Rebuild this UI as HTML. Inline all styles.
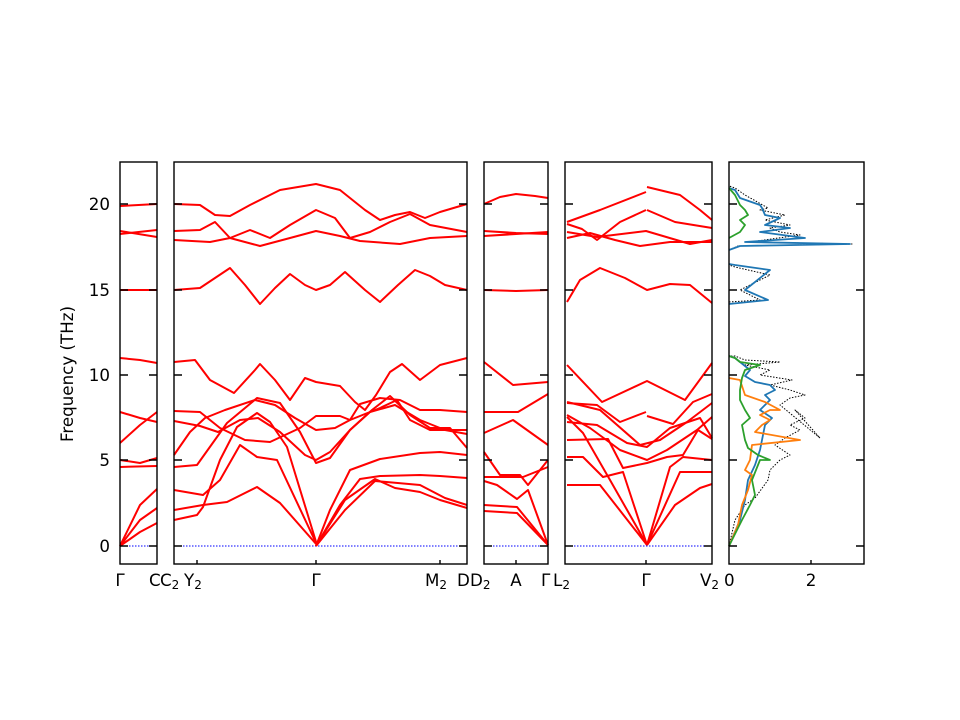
<!DOCTYPE html>
<html><head><meta charset="utf-8"><style>
body{margin:0;background:#fff}
svg{display:block}
text{font-family:"DejaVu Sans","Liberation Sans",sans-serif;font-size:16.7px;fill:#000}
.b{fill:none;stroke:#f00;stroke-width:2;stroke-linejoin:round}
.f{fill:none;stroke:#000;stroke-width:1.4}
.z{stroke:#00f;stroke-width:1;stroke-dasharray:1.5,1.5}
</style></head><body>
<svg width="960" height="720" xmlns="http://www.w3.org/2000/svg">
<rect width="960" height="720" fill="#fff"/>
<g class="z">
<line x1="120" y1="546" x2="157" y2="546"/><line x1="174" y1="546" x2="467" y2="546"/>
<line x1="484" y1="546" x2="548" y2="546"/><line x1="565" y1="546" x2="712" y2="546"/>
</g>
<g class="b">
<polyline points="120,206 157,204"/>
<polyline points="120,231 157,237"/><polyline points="120,234 157,230"/>
<polyline points="120,290 157,290"/>
<polyline points="120,358 140,360 157,363"/>
<polyline points="120,412 140,418 157,422"/>
<polyline points="120,443 140,425 157,412"/>
<polyline points="120,460 140,463 157,458"/>
<polyline points="120,467 157,466"/>
<polyline points="120,546 140,505 157,489"/>
<polyline points="120,546 140,520 157,508"/>
<polyline points="120,546 140,532 157,523"/>
</g>
<g class="b">
<polyline points="174,204 200,205 215,215 230,216 250,205 280,190 316,184 340,190 365,210 380,220 395,215 410,212 425,218 440,212 467,204"/>
<polyline points="174,231 200,230 215,222 230,238 250,230 270,238 290,225 316,210 335,218 350,238 370,232 390,222 410,214 430,225 467,232"/>
<polyline points="174,240 210,242 230,238 260,246 290,238 316,231 340,236 360,241 400,244 430,238 467,236"/>
<polyline points="174,290 200,288 215,278 230,268 245,285 260,304 275,288 290,274 305,285 316,290 330,285 345,272 365,290 380,302 398,285 415,270 430,276 445,285 467,290"/>
<polyline points="174,362 195,360 210,380 234,393 255,370 260,364 275,380 290,400 305,378 316,382 340,386 355,402 365,410 376,395 390,372 402,364 420,380 440,365 467,358"/>
<polyline points="174,411 200,412 220,428 245,440 270,442 300,428 316,416 340,416 350,420 360,404 380,398 400,400 420,410 440,410 467,412"/>
<polyline points="174,421 200,426 218,432 240,420 258,418 280,432 305,455 316,460 330,452 350,430 370,412 395,405 420,420 445,430 467,434"/>
<polyline points="174,455 190,432 205,418 225,410 255,400 275,405 295,418 316,430 335,428 350,420 380,408 397,400 410,420 430,430 467,430"/>
<polyline points="174,467 197,465 227,423 257,398 280,403 300,432 316,463 330,458 350,430 372,410 390,396 410,415 430,428 450,428 467,448"/>
<polyline points="174,490 203,495 220,480 240,445 257,457 277,460 317,545"/>
<polyline points="174,520 197,515 203,507 220,460 237,427 257,413 270,422 287,447 317,545"/>
<polyline points="174,510 203,505 227,502 257,487 280,503 317,545"/>
<polyline points="316,546 330,510 350,470 380,459 420,453 440,452 467,455"/>
<polyline points="316,546 340,505 360,479 380,476 420,475 440,476 467,478"/>
<polyline points="316,546 345,500 375,479 395,488 420,492 440,500 467,508"/>
<polyline points="316,546 345,510 375,481 420,485 445,498 467,505"/>
</g>
<g class="b">
<polyline points="484,204 500,197 516,194 535,196 548,198"/>
<polyline points="484,231 516,233 548,234"/>
<polyline points="484,236 516,234 548,232"/>
<polyline points="484,290 516,291 548,290"/>
<polyline points="484,362 513,385 548,382"/>
<polyline points="484,412 518,412 548,394"/>
<polyline points="484,433 513,420 548,445"/>
<polyline points="484,452 500,475 520,475 528,485 548,460"/>
<polyline points="484,477 523,477 548,467"/>
<polyline points="484,481 497,485 517,499 528,490 548,545"/>
<polyline points="484,505 517,507 548,545"/>
<polyline points="484,511 517,513 548,545"/>
</g>
<g class="b">
<polyline points="567,222 600,210 646,192"/><polyline points="647,187 680,195 700,210 712,220"/>
<polyline points="567,224 582,229 597,240 620,222 646,210"/><polyline points="647,210 675,222 712,228"/>
<polyline points="567,232 597,237 646,231 690,244 712,240"/>
<polyline points="567,238 590,233 615,240 640,246 670,242 712,242"/>
<polyline points="567,302 580,280 600,268 625,278 647,290 670,284 690,285 712,303"/>
<polyline points="567,365 602,402 647,381 685,400 712,363"/>
<polyline points="567,403 597,405 620,422 646,412"/><polyline points="647,416 673,424 693,402 712,394"/>
<polyline points="567,402 600,410 640,445 660,440 687,422 712,403"/>
<polyline points="567,415 590,428 620,450 647,460 667,450 697,430 712,417"/>
<polyline points="567,422 597,425 627,443 647,447 670,428 700,418 712,438"/>
<polyline points="567,440 608,439 623,468 647,463 667,457 683,455 698,430 712,439"/>
<polyline points="567,417 583,433 610,480 647,545"/>
<polyline points="567,457 583,457 603,477 623,472 647,545"/>
<polyline points="567,485 600,485 647,545"/>
<polyline points="647,545 670,467 683,457 712,460"/>
<polyline points="647,545 680,472 712,472"/>
<polyline points="647,545 675,505 700,488 712,484"/>
</g>
<g fill="none" stroke-width="1.8" stroke-linejoin="round">
<path stroke="#000" stroke-width="1" stroke-dasharray="1.5,1.5" d="M729,546 L735,520 745,505 755,498 768,480 770,470 780,460 790,455 775,445 785,438 800,430 790,425 805,418 795,410 820,438 780,405 790,398 805,395 790,390 770,385 792,380 760,375 770,370 745,365 780,362 745,360 735,356 729,356 M729,302 L760,300 740,290 770,275 735,267 729,265 M729,250 L738,246 852,244 750,242 800,235 780,232 770,228 790,225 765,220 785,215 760,210 768,208 745,195 735,188 729,186"/>
<path stroke="#1f77b4" d="M729,546 L740,520 745,500 748,480 755,465 760,450 762,440 765,425 772,418 760,410 770,400 765,395 775,390 770,385 755,382 745,376 750,370 740,362 735,358 729,356 M729,304 L768,300 745,290 770,270 735,265 729,264 M729,250 L740,246 850,244 745,242 805,238 760,232 790,228 765,225 780,218 765,215 762,208 760,205 740,198 735,190 729,188"/>
<path stroke="#ff7f0e" d="M729,546 L738,525 742,505 748,490 752,475 745,470 750,460 752,445 800,440 755,432 762,425 770,420 760,415 770,410 780,410 765,402 745,395 740,380 729,378"/>
<path stroke="#2ca02c" d="M729,546 L742,520 750,505 755,495 752,480 760,460 770,460 758,455 748,448 745,440 742,425 750,418 745,410 740,400 740,390 742,378 745,370 760,365 740,362 735,358 729,356 M729,238 L740,232 745,225 740,220 748,215 745,210 740,205 735,195 729,188"/>
</g>
<g class="f">
<rect x="120" y="162" width="37" height="402"/>
<rect x="174" y="162" width="293" height="402"/>
<rect x="484" y="162" width="64" height="402"/>
<rect x="565" y="162" width="147" height="402"/>
<rect x="729" y="162" width="135" height="402"/>
</g>
<g stroke="#000" stroke-width="1.4">
<path d="M120,546h8M120,460h8M120,375h8M120,290h8M120,204h8M157,546h-8M157,460h-8M157,375h-8M157,290h-8M157,204h-8"/>
<path d="M174,546h8M174,460h8M174,375h8M174,290h8M174,204h8M467,546h-8M467,460h-8M467,375h-8M467,290h-8M467,204h-8"/>
<path d="M484,546h8M484,460h8M484,375h8M484,290h8M484,204h8M548,546h-8M548,460h-8M548,375h-8M548,290h-8M548,204h-8"/>
<path d="M565,546h8M565,460h8M565,375h8M565,290h8M565,204h8M712,546h-8M712,460h-8M712,375h-8M712,290h-8M712,204h-8"/>
<path d="M729,546h8M729,460h8M729,375h8M729,290h8M729,204h8M864,546h-8M864,460h-8M864,375h-8M864,290h-8M864,204h-8"/>
<path d="M197,564v-4M316,564v-4M440,564v-4M516,564v-4M646,564v-4M811,564v-4"/>
</g>
<g text-anchor="end">
<text x="110" y="552">0</text><text x="110" y="466">5</text><text x="110" y="381">10</text><text x="110" y="296">15</text><text x="110" y="210">20</text>
</g>
<text transform="translate(73,374) rotate(-90)" text-anchor="middle">Frequency (THz)</text>
<text x="120" y="586" text-anchor="middle">Γ</text>
<text x="149" y="586">C</text><text x="160" y="586">C<tspan font-size="12" dy="3">2</tspan></text>
<text x="184" y="586">Y<tspan font-size="12" dy="3">2</tspan></text>
<text x="316" y="586" text-anchor="middle">Γ</text>
<text x="425" y="586">M<tspan font-size="12" dy="3">2</tspan></text>
<text x="457" y="586">D</text><text x="470" y="586">D<tspan font-size="12" dy="3">2</tspan></text>
<text x="516" y="586" text-anchor="middle">A</text>
<text x="541" y="586">Γ</text><text x="553" y="586">L<tspan font-size="12" dy="3">2</tspan></text>
<text x="646" y="586" text-anchor="middle">Γ</text>
<text x="700" y="586">V<tspan font-size="12" dy="3">2</tspan></text>
<text x="724" y="586">0</text>
<text x="811" y="586" text-anchor="middle">2</text>
</svg>
</body></html>
